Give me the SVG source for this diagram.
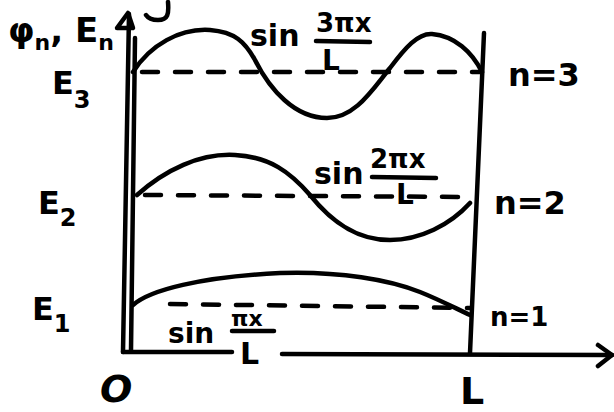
<svg xmlns="http://www.w3.org/2000/svg" width="614" height="412" viewBox="0 0 614 412">
<style>
.ln{fill:none;stroke:#000;stroke-width:4.5;stroke-linecap:round;stroke-linejoin:round}
.ds{fill:none;stroke:#000;stroke-width:4.5;stroke-linecap:round;stroke-dasharray:16 17}
.t{font-family:"DejaVu Sans",sans-serif;font-weight:bold;fill:#000}
</style>
<rect width="614" height="412" fill="#fff"/>
<g id="axes">
<path class="ln" d="M129,14 L123,352"/>
<path class="ln" d="M135,38 L131,350"/>
<path class="ln" d="M117,28 L128,13 L133,28 Z" fill="#000"/>
<path class="ln" d="M123,352 L232,352"/>
<path class="ln" d="M282,354 L612,355"/>
<path class="ln" d="M598,345 L612,355 L598,366"/>
<path class="ln" d="M484,33 L470,353"/>
<path class="ln" d="M168,2 C169,14 168,20 158,20 C152,20 148,18 146,15"/>
</g>
<g id="levels">
<path class="ds" d="M142,72 L480,72"/>
<path class="ds" d="M145,195 L470,197"/>
<path class="ds" d="M170,304 L470,308"/>
</g>
<g id="curves">
<path id="psi3" class="ln" d="M133,72 C150,45 180,28 210,30 C235,32 245,42 255,60 C270,90 295,118 327,118 C355,118 372,90 390,68 C405,48 418,33 432,34 C455,36 472,52 482,72"/>
<path id="psi2" class="ln" d="M137,195 C165,170 200,153 235,155 C270,157 290,172 310,195 C330,220 355,240 390,240 C420,240 450,225 470,203"/>
<path id="psi1" class="ln" d="M133,305 C150,290 200,277 280,273 C340,271 390,280 420,292 C440,300 455,308 470,315"/>
</g>
<g id="labels">
<text class="t" x="8" y="42" font-size="34">φ<tspan font-size="22" dy="8">n</tspan><tspan dy="-8">, E</tspan><tspan font-size="22" dy="8">n</tspan></text>
<text class="t" x="52" y="94" font-size="32">E<tspan font-size="24" dy="14">3</tspan></text>
<text class="t" x="38" y="214" font-size="32">E<tspan font-size="24" dy="12">2</tspan></text>
<text class="t" x="32" y="320" font-size="32">E<tspan font-size="24" dy="12">1</tspan></text>
<text class="t" x="100" y="402" font-size="38" font-style="italic" font-weight="normal">O</text>
<text class="t" x="460" y="404" font-size="38" font-weight="normal">L</text>
<text class="t" x="508" y="86" font-size="32">n=3</text>
<text class="t" x="494" y="214" font-size="32">n=2</text>
<text class="t" x="490" y="326" font-size="26">n=1</text>
</g>
<g id="sin3">
<text class="t" x="250" y="46" font-size="30">sin</text>
<text class="t" x="316" y="32" font-size="26">3πx</text>
<path class="ln" d="M316,41 L370,42"/>
<text class="t" x="322" y="70" font-size="28">L</text>
</g>
<g id="sin2">
<text class="t" x="314" y="184" font-size="30">sin</text>
<text class="t" x="370" y="168" font-size="26">2πx</text>
<path class="ln" d="M372,177 L436,178"/>
<text class="t" x="396" y="204" font-size="28">L</text>
</g>
<g id="sin1">
<text class="t" x="168" y="343" font-size="28">sin</text>
<text class="t" x="231" y="326" font-size="22">πx</text>
<path class="ln" d="M232,331 L274,331"/>
<text class="t" x="240" y="364" font-size="30" font-weight="normal">L</text>
</g>
</svg>
